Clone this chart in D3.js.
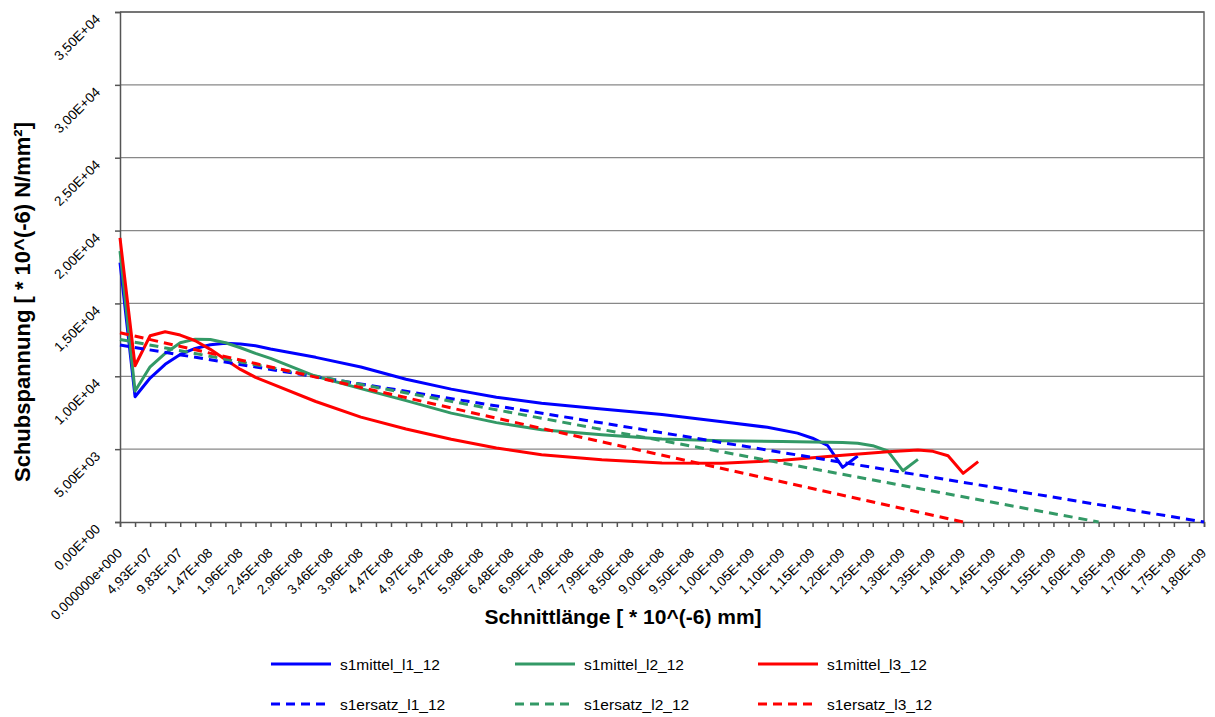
<!DOCTYPE html>
<html>
<head>
<meta charset="utf-8">
<script src="https://cdn.jsdelivr.net/npm/d3@7"></script>
<style>
  body { margin: 0; background: #fff; }
  svg text { font-family: Arial, "Liberation Sans", sans-serif; }
</style>
</head>
<body>
<svg id="chart" width="1215" height="717" viewBox="0 0 1215 717"></svg>
<script>
// category labels (every second category is labelled)
var xLabels = ["0.000000e+000", "4,93E+07", "9,83E+07", "1,47E+08", "1,96E+08", "2,45E+08",
  "2,96E+08", "3,46E+08", "3,96E+08", "4,47E+08", "4,97E+08", "5,47E+08", "5,98E+08",
  "6,48E+08", "6,99E+08", "7,49E+08", "7,99E+08", "8,50E+08", "9,00E+08", "9,50E+08",
  "1,00E+09", "1,05E+09", "1,10E+09", "1,15E+09", "1,20E+09", "1,25E+09", "1,30E+09",
  "1,35E+09", "1,40E+09", "1,45E+09", "1,50E+09", "1,55E+09", "1,60E+09", "1,65E+09",
  "1,70E+09", "1,75E+09", "1,80E+09"];
var categoryCount = 73;
var yTicks = [0, 5000, 10000, 15000, 20000, 25000, 30000, 35000];
var yLabels = ["0,00E+00", "5,00E+03", "1,00E+04", "1,50E+04", "2,00E+04", "2,50E+04", "3,00E+04", "3,50E+04"];

// [category index, value]
var s1mittel_l1 = [[0,17800],[1,8600],[2,9880],[3,10820],[4,11500],[5,11910],[6,12160],[7,12260],
  [8,12210],[9,12100],[10,11870],[13,11300],[16,10640],[19,9800],[22,9120],[25,8560],[28,8150],
  [32,7760],[36,7380],[40,6880],[43,6500],[45,6100],[46,5750],[47,5250],[48,3750],[49,4530]];
var s1mittel_l2 = [[0,18600],[1,8990],[2,10650],[3,11570],[4,12300],[5,12550],[6,12530],[7,12300],
  [8,11960],[9,11570],[10,11230],[13,10000],[16,9150],[19,8330],[22,7470],[25,6820],[28,6330],
  [32,5990],[36,5700],[40,5580],[44,5530],[48,5460],[49,5400],[50,5240],[51,4870],[52,3520],[53,4300]];
var s1mittel_l3 = [[0,19500],[1,10720],[2,12780],[3,13060],[4,12830],[5,12440],[6,11850],[7,11160],
  [8,10470],[9,9930],[10,9510],[13,8270],[16,7200],[19,6380],[22,5680],[25,5080],[28,4620],
  [32,4270],[36,4050],[40,4030],[44,4230],[48,4580],[51,4820],[53,4940],[54,4850],[55,4550],
  [56,3340],[57,4140]];
var s1ersatz_l1 = [[0,12140],[36,6130],[72,0]];
var s1ersatz_l2 = [[0,12530],[28,7120],[65,0]];
var s1ersatz_l3 = [[0,12990],[28,6420],[56,0]];

var series = [
  {name: "s1mittel_l1_12", data: s1mittel_l1, color: "#0000ff", dash: null},
  {name: "s1mittel_l2_12", data: s1mittel_l2, color: "#339966", dash: null},
  {name: "s1mittel_l3_12", data: s1mittel_l3, color: "#ff0000", dash: null},
  {name: "s1ersatz_l1_12", data: s1ersatz_l1, color: "#0000ff", dash: "9,6"},
  {name: "s1ersatz_l2_12", data: s1ersatz_l2, color: "#339966", dash: "9,6"},
  {name: "s1ersatz_l3_12", data: s1ersatz_l3, color: "#ff0000", dash: "9,6"}
];

var svg = d3.select("#chart");
var plotLeft = 120, plotRight = 1204, plotTop = 12, plotBottom = 522;

var xScale = d3.scaleLinear().domain([0, categoryCount - 1]).range([plotLeft, plotRight]);
var yScale = d3.scaleLinear().domain([0, 35000]).range([plotBottom, plotTop]);

// gridlines
svg.append("g").selectAll("line")
  .data(yTicks.slice(1))
  .enter().append("line")
  .attr("x1", plotLeft).attr("x2", plotRight)
  .attr("y1", function (d) { return yScale(d); })
  .attr("y2", function (d) { return yScale(d); })
  .attr("stroke", "#888").attr("stroke-width", 1.3);

// plot border top/right
svg.append("path")
  .attr("d", "M" + plotLeft + "," + plotTop + "H" + plotRight + "V" + plotBottom)
  .attr("fill", "none").attr("stroke", "#666").attr("stroke-width", 1.5);

// y axis
var yAxis = d3.axisLeft(yScale).tickValues(yTicks).tickSize(5).tickFormat("");
var gy = svg.append("g").attr("transform", "translate(" + plotLeft + ",0)").call(yAxis);
gy.selectAll("line, path").attr("stroke", "#555").attr("stroke-width", 1.5);
svg.append("g").selectAll("text")
  .data(yTicks)
  .enter().append("text")
  .attr("transform", function (d) { return "translate(101," + (yScale(d) + 8) + ") rotate(-45)"; })
  .attr("text-anchor", "end")
  .attr("font-size", 13.5)
  .text(function (d, i) { return yLabels[i]; });

// x axis
var xAxis = d3.axisBottom(xScale).tickValues(d3.range(categoryCount)).tickSize(5).tickFormat("");
var gx = svg.append("g").attr("transform", "translate(0," + plotBottom + ")").call(xAxis);
gx.selectAll("line, path").attr("stroke", "#555").attr("stroke-width", 1.5);
svg.append("g").selectAll("text")
  .data(xLabels)
  .enter().append("text")
  .attr("transform", function (d, i) { return "translate(" + (xScale(i * 2) + 3) + "," + (plotBottom + 32) + ") rotate(-45)"; })
  .attr("text-anchor", "end")
  .attr("font-size", 13.5)
  .text(function (d) { return d; });

// lines
var line = d3.line()
  .x(function (d) { return xScale(d[0]); })
  .y(function (d) { return yScale(d[1]); });

svg.append("g").selectAll("path")
  .data(series)
  .enter().append("path")
  .attr("d", function (d) { return line(d.data); })
  .attr("fill", "none")
  .attr("stroke", function (d) { return d.color; })
  .attr("stroke-width", 3)
  .attr("stroke-dasharray", function (d) { return d.dash; })
  .attr("stroke-linejoin", "round");

// axis titles
svg.append("text")
  .attr("transform", "translate(30,302) rotate(-90)")
  .attr("text-anchor", "middle")
  .attr("font-size", 22).attr("font-weight", "bold")
  .text("Schubspannung [ * 10^(-6) N/mm²]");
svg.append("text")
  .attr("x", 623).attr("y", 624)
  .attr("text-anchor", "middle")
  .attr("font-size", 21).attr("font-weight", "bold")
  .text("Schnittlänge [ * 10^(-6) mm]");

// legend
var legendX = [271, 515, 758], legendY = [664, 704];
var legend = svg.append("g").selectAll("g")
  .data(series)
  .enter().append("g")
  .attr("transform", function (d, i) { return "translate(" + legendX[i % 3] + "," + legendY[Math.floor(i / 3)] + ")"; });
legend.append("line")
  .attr("x1", 0).attr("x2", 60)
  .attr("stroke", function (d) { return d.color; })
  .attr("stroke-width", 3)
  .attr("stroke-dasharray", function (d) { return d.dash; });
legend.append("text")
  .attr("x", 69).attr("y", 5.5)
  .attr("font-size", 15.5)
  .text(function (d) { return d.name; });
</script>
</body>
</html>
